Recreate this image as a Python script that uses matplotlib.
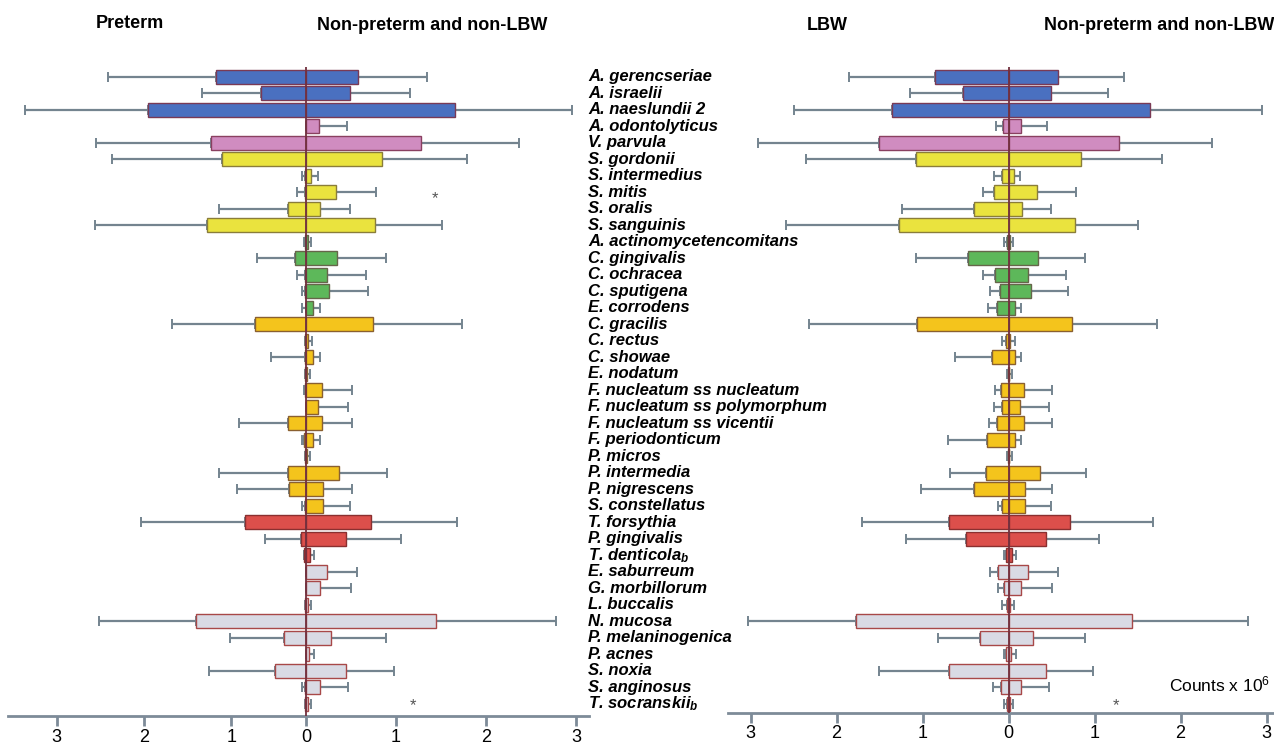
import numpy as np
import matplotlib
matplotlib.use("Agg")
import matplotlib.pyplot as plt
from matplotlib import font_manager
from matplotlib.transforms import blended_transform_factory

plt.rcParams['font.family'] = ['Liberation Sans', 'DejaVu Sans']
plt.rcParams['mathtext.fontset'] = 'custom'
plt.rcParams['mathtext.rm'] = 'Liberation Sans'

# condensed face for the species names and headers, if present
names = {f.name for f in font_manager.fontManager.ttflist}
if 'Liberation Sans Narrow' in names:
    narrow, lab_size, head_size = 'Liberation Sans Narrow', 14.3, 15.5
else:
    narrow, lab_size, head_size = 'Liberation Sans', 12, 13
plt.rcParams['mathtext.it'] = narrow + ':italic:bold'

# species, top to bottom
species = ['A. gerencseriae', 'A. israelii', 'A. naeslundii 2', 'A. odontolyticus',
           'V. parvula', 'S. gordonii', 'S. intermedius', 'S. mitis', 'S. oralis',
           'S. sanguinis', 'A. actinomycetencomitans', 'C. gingivalis', 'C. ochracea',
           'C. sputigena', 'E. corrodens', 'C. gracilis', 'C. rectus', 'C. showae',
           'E. nodatum', 'F. nucleatum ss nucleatum', 'F. nucleatum ss polymorphum',
           'F. nucleatum ss vicentii', 'F. periodonticum', 'P. micros', 'P. intermedia',
           'P. nigrescens', 'S. constellatus', 'T. forsythia', 'P. gingivalis',
           'T. denticola$_b$', 'E. saburreum', 'G. morbillorum', 'L. buccalis',
           'N. mucosa', 'P. melaninogenica', 'P. acnes', 'S. noxia', 'S. anginosus',
           'T. socranskii$_b$']

# complex of each species
complexes = ['blue'] * 3 + ['purple'] * 2 + ['yellow'] * 5 + ['green'] * 5 + \
            ['orange'] * 12 + ['red'] * 3 + ['other'] * 9

# mean counts (x 10^6) and SD
control = [0.58, 0.49, 1.65, 0.14, 1.28, 0.84, 0.06, 0.33, 0.16, 0.77,
           0.02, 0.34, 0.23, 0.26, 0.08, 0.74, 0.02, 0.08, 0.01, 0.18,
           0.13, 0.18, 0.08, 0.01, 0.37, 0.19, 0.19, 0.72, 0.44, 0.04,
           0.23, 0.15, 0.02, 1.44, 0.28, 0.03, 0.44, 0.15, 0.02]
control_sd = [0.76, 0.67, 1.30, 0.31, 1.09, 0.95, 0.07, 0.45, 0.33, 0.74,
              0.03, 0.55, 0.44, 0.43, 0.07, 0.99, 0.05, 0.07, 0.03, 0.33,
              0.34, 0.33, 0.07, 0.03, 0.53, 0.32, 0.30, 0.96, 0.61, 0.05,
              0.34, 0.35, 0.04, 1.34, 0.61, 0.06, 0.54, 0.32, 0.03]

preterm = [1.00, 0.50, 1.76, 0.00, 1.06, 0.93, 0.01, 0.01, 0.20, 1.10,
           0.01, 0.12, 0.01, 0.01, 0.00, 0.57, 0.01, 0.01, 0.01, 0.01,
           0.00, 0.20, 0.02, 0.01, 0.20, 0.19, 0.01, 0.68, 0.06, 0.02,
           0.00, 0.00, 0.01, 1.22, 0.25, 0.00, 0.34, 0.01, 0.01]
preterm_sd = [1.20, 0.66, 1.36, 0.00, 1.27, 1.23, 0.03, 0.09, 0.77, 1.25,
              0.01, 0.42, 0.09, 0.04, 0.05, 0.92, 0.00, 0.38, 0.00, 0.01,
              0.00, 0.54, 0.02, 0.00, 0.77, 0.58, 0.04, 1.15, 0.40, 0.00,
              0.00, 0.00, 0.00, 1.08, 0.60, 0.00, 0.74, 0.04, 0.00]

lbw = [0.85, 0.53, 1.35, 0.06, 1.51, 1.08, 0.08, 0.17, 0.40, 1.27,
       0.02, 0.47, 0.16, 0.10, 0.13, 1.06, 0.03, 0.19, 0.01, 0.09,
       0.08, 0.13, 0.25, 0.01, 0.26, 0.40, 0.07, 0.69, 0.49, 0.03,
       0.12, 0.05, 0.02, 1.77, 0.33, 0.03, 0.69, 0.09, 0.02]
lbw_sd = [1.00, 0.61, 1.15, 0.08, 1.40, 1.28, 0.09, 0.13, 0.84, 1.32,
          0.03, 0.61, 0.14, 0.11, 0.11, 1.26, 0.04, 0.43, 0.01, 0.07,
          0.09, 0.10, 0.45, 0.01, 0.42, 0.62, 0.05, 1.01, 0.70, 0.02,
          0.09, 0.07, 0.05, 1.26, 0.49, 0.02, 0.82, 0.09, 0.03]

fill = {'blue': '#4a70c0', 'purple': '#d08cc0', 'yellow': '#eae33e', 'green': '#5db85a',
        'orange': '#f4c41c', 'red': '#dc4f4b', 'other': '#d9dae4'}
edge = {'blue': '#7a3a55', 'purple': '#8a4060', 'yellow': '#8a7d3a', 'green': '#66664a',
        'orange': '#8a6030', 'red': '#8a3030', 'other': '#a84848'}
axis_col = '#7d8b98'
err_col = '#74848f'

W, H = 1274, 744
fig = plt.figure(figsize=(W / 100, H / 100), dpi=100)


def px_axes(x0, x1, top, bottom):
    return fig.add_axes([x0 / W, 1 - bottom / H, (x1 - x0) / W, (bottom - top) / H])


def draw_panel(ax, case, case_sd, xlim, ybottom, left_ticks):
    n = len(species)
    y = np.arange(n)
    case = np.array(case)
    ctrl = np.array(control)
    zeros = np.zeros(n)
    fc = [fill[c] for c in complexes]
    ec = [edge[c] for c in complexes]
    ax.errorbar(-case, y, xerr=[case_sd, zeros], fmt='none', ecolor=err_col,
                elinewidth=1.6, capsize=3.5, capthick=1.4, zorder=1)
    ax.errorbar(ctrl, y, xerr=[zeros, control_sd], fmt='none', ecolor=err_col,
                elinewidth=1.6, capsize=3.5, capthick=1.4, zorder=1)
    ax.barh(y, -case, height=0.85, color=fc, edgecolor=ec, linewidth=1.0, zorder=2)
    ax.barh(y, ctrl, height=0.85, color=fc, edgecolor=ec, linewidth=1.0, zorder=2)
    ax.axvline(0, color='#72303e', lw=1.3, zorder=3)
    ax.set_xlim(*xlim)
    ax.set_ylim(ybottom, -0.6)
    ax.set_yticks([])
    ax.set_xticks(list(left_ticks) + [0, 1, 2, 3])
    ax.set_xticklabels(['3', '2', '1', '0', '1', '2', '3'], fontsize=13)
    ax.tick_params(axis='x', direction='out', length=7, width=2, color=axis_col, pad=2)
    for s in ['left', 'top', 'right']:
        ax.spines[s].set_visible(False)
    ax.spines['bottom'].set_color(axis_col)
    ax.spines['bottom'].set_linewidth(2)
    ax.patch.set_alpha(0)


# left half of the preterm axis is drawn slightly compressed in the original
ax1 = px_axes(8, 589, 67, 716)
draw_panel(ax1, preterm, preterm_sd, (-(306 - 8) / 90, (589 - 306) / 90), 38.73,
           [-2.77, -1.80, -0.83])

ax2 = px_axes(728, 1274, 67, 713)
draw_panel(ax2, lbw, lbw_sd, (-(1008.5 - 728) / 86, (1274 - 1008.5) / 86), 38.55,
           [-3, -2, -1])

# species names between the two panels
trans = blended_transform_factory(fig.transFigure, ax1.transData)
for i, name in enumerate(species):
    fig.text(588 / W, i, name, transform=trans, family=narrow, fontsize=lab_size,
             fontweight='bold', fontstyle='italic', ha='left', va='center')

# significance markers
mitis = species.index('S. mitis')
socr = len(species) - 1
ax1.text(1.43, mitis + 0.4, '*', fontsize=12, color='#555555', ha='center', va='center')
ax1.text(1.19, socr + 0.1, '*', fontsize=12, color='#555555', ha='center', va='center')
ax2.text(1.25, socr + 0.1, '*', fontsize=12, color='#555555', ha='center', va='center')

# headers
for x, y, s in [(96, 23, 'Preterm'), (317, 26, 'Non-preterm and non-LBW'),
                (807, 26, 'LBW'), (1044, 26, 'Non-preterm and non-LBW')]:
    fig.text(x / W, 1 - y / H, s, family=narrow, fontsize=head_size,
             fontweight='bold', va='center')
fig.text(1270 / W, 1 - 684 / H, 'Counts x 10$^6$', fontsize=12.5, ha='right', va='center')

fig.savefig('out.png', dpi=100)
